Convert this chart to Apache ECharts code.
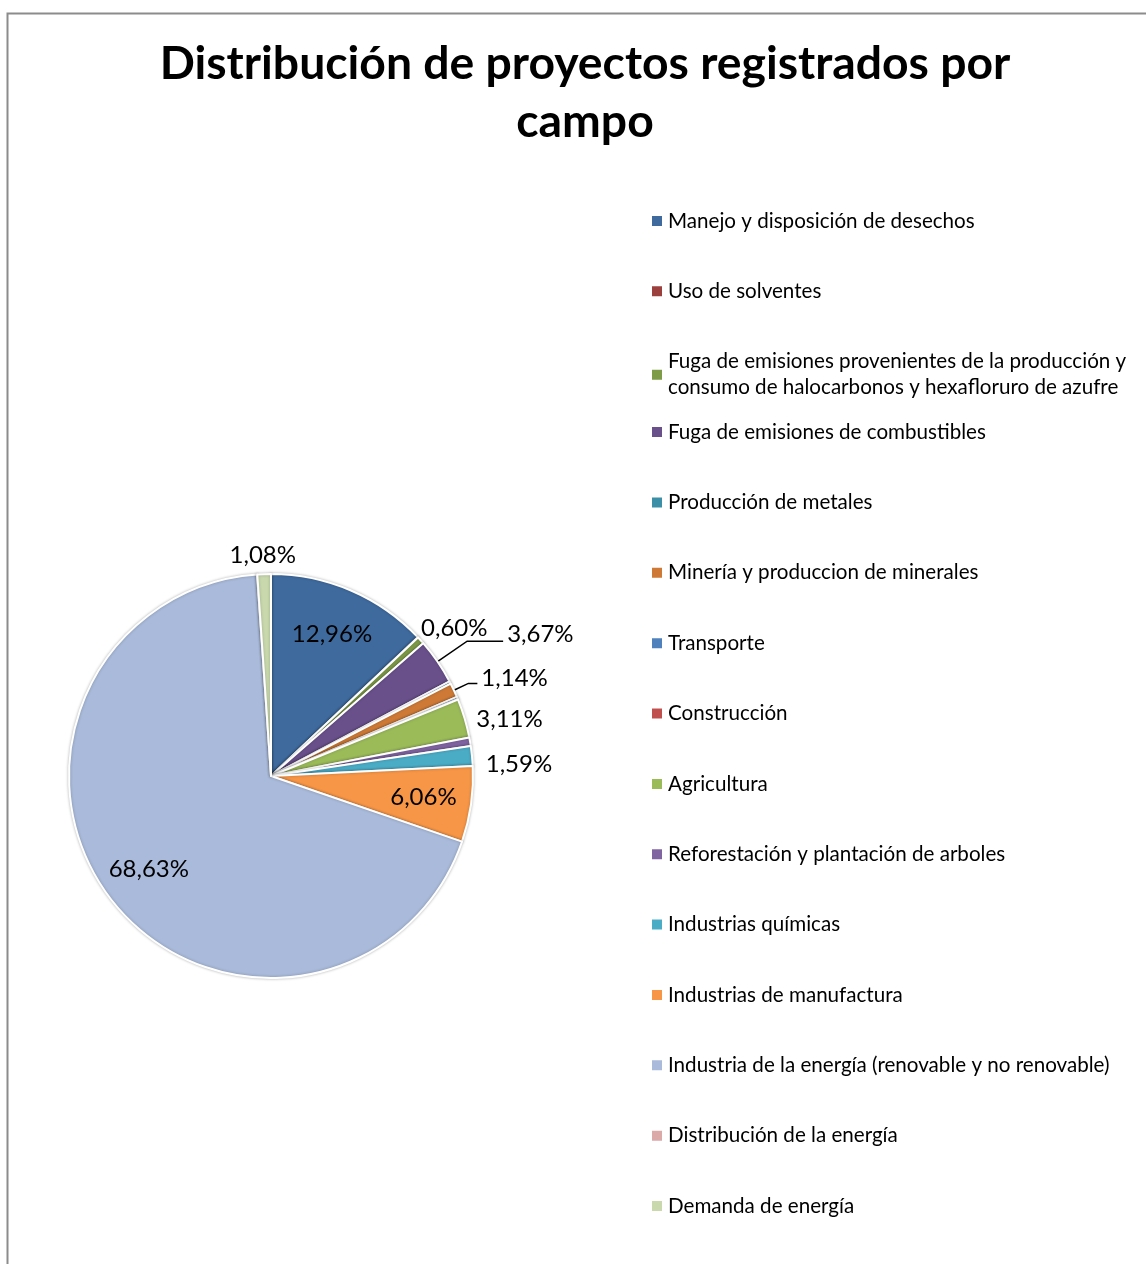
<html>
    <head>
        <meta charset="utf-8">
        <script src="https://cdn.jsdelivr.net/npm/echarts@6/dist/echarts.min.js"></script>
    </head>
    <body>
        <style>
            html, body, #main {
                width: 100%;
                height: 100%;
                margin: 0;
                background: #fff;
            }
        </style>
        <div id="main"></div>
        <script>
            var chart = echarts.init(document.getElementById('main'));

            // campos (orden de la leyenda y del pastel)
            var categories = [
                'Manejo y disposición de desechos',
                'Uso de solventes',
                'Fuga de emisiones provenientes de la producción y\nconsumo de halocarbonos y hexafloruro de azufre',
                'Fuga de emisiones de combustibles',
                'Producción de metales',
                'Minería y produccion de minerales',
                'Transporte',
                'Construcción',
                'Agricultura',
                'Reforestación y plantación de arboles',
                'Industrias químicas',
                'Industrias de manufactura',
                'Industria de la energía (renovable y no renovable)',
                'Distribución de la energía',
                'Demanda de energía'
            ];
            // porcentaje de proyectos por campo
            var shares = [12.96, 0.02, 0.60, 3.67, 0.20, 1.14, 0.20, 0.04, 3.11, 0.68, 1.59, 6.06, 68.63, 0.02, 1.08];
            // which slices carry a % label, and where
            var labelMode = ['in', '', 'out', 'line', '', 'line', '', '', 'out', '', 'out', 'in', 'in', '', 'out'];

            var colors = [
                '#3E6A9E', '#9C403D', '#7E9B47', '#69508B', '#3B8FA6',
                '#CE7A36', '#4F81BD', '#C0504D', '#9BBB59', '#8064A2',
                '#4BACC6', '#F79646', '#A9BADA', '#DBA9A8', '#C9D9AD'
            ];

            var CX = 271, CY = 776, R = 202;

            function pct(v) {
                return v.toFixed(2).replace('.', ',') + '%';
            }

            // mid angle of every slice (radians, clockwise from 12 o'clock)
            var total = shares.reduce(function (a, b) { return a + b; }, 0);
            var midAngles = [];
            var acc = 0;
            shares.forEach(function (v) {
                midAngles.push((acc + v / 2) / total * Math.PI * 2);
                acc += v;
            });

            var labelFont = {
                fontFamily: 'Lato',
                fontSize: 24,
                color: '#000'
            };

            // leader line [length, length2] for the two labels that have one;
            // their text sits a little above the line's end
            var lineLen = { 3: [36, 36], 5: [16, 9] };
            var liftStyle = {
                lift14: { fontSize: 1, lineHeight: 14 },
                lift10: { fontSize: 1, lineHeight: 10 }
            };

            var mainData = categories.map(function (name, i) {
                var mode = labelMode[i];
                var item = {
                    name: name,
                    value: shares[i],
                    label: { show: mode === 'out' || mode === 'line' },
                    labelLine: { show: mode === 'line' }
                };
                if (lineLen[i]) {
                    item.labelLine.length = lineLen[i][0];
                    item.labelLine.length2 = lineLen[i][1];
                    item.label.formatter = (function (tag) {
                        return function (p) {
                            return pct(p.value) + '\n{' + tag + '| }';
                        };
                    })(i === 3 ? 'lift14' : 'lift10');
                }
                return item;
            });

            // transparent ring used only to place the inner labels further out
            var ringData = categories.map(function (name, i) {
                return {
                    name: name,
                    value: shares[i],
                    label: { show: labelMode[i] === 'in' }
                };
            });

            var legends = categories.map(function (name, i) {
                return {
                    data: [name],
                    orient: 'vertical',
                    left: 650,
                    top: 221 + i * 70.36 - 13,
                    padding: 0,
                    itemWidth: 12,
                    itemHeight: 12,
                    icon: 'rect',
                    textStyle: {
                        fontFamily: 'Lato',
                        fontSize: 20.6,
                        lineHeight: 26,
                        color: '#000'
                    }
                };
            });

            var option = {
                color: colors,
                backgroundColor: '#fff',
                title: {
                    text: 'Distribución de proyectos registrados por\ncampo',
                    left: 580,
                    top: 30,
                    textAlign: 'center',
                    textStyle: {
                        fontFamily: 'Lato',
                        fontWeight: 'bold',
                        fontSize: 46.3,
                        lineHeight: 58,
                        color: '#000'
                    }
                },
                legend: legends,
                graphic: [{
                    type: 'rect',
                    shape: { x: 7.5, y: 13.5, width: 1200, height: 1300 },
                    style: { fill: 'none', stroke: '#8c8c8c', lineWidth: 2 },
                    silent: true
                }],
                series: [{
                    type: 'pie',
                    center: [CX, CY],
                    radius: [0, R],
                    startAngle: 90,
                    clockwise: true,
                    avoidLabelOverlap: false,
                    itemStyle: {
                        borderColor: '#fff',
                        borderWidth: 2,
                        shadowBlur: 3,
                        shadowColor: 'rgba(0,0,0,0.25)'
                    },
                    label: Object.assign({
                        position: 'outside',
                        formatter: function (p) { return pct(p.value); },
                        distanceToLabelLine: 4,
                        lineHeight: 24,
                        rich: liftStyle
                    }, labelFont),
                    labelLine: {
                        length: 8,
                        length2: 0,
                        lineStyle: { color: '#000', width: 1.5 }
                    },
                    // outside labels without a leader sit just past the rim
                    labelLayout: function (p) {
                        var i = p.dataIndex;
                        if (labelMode[i] !== 'out') {
                            return;
                        }
                        var a = midAngles[i];
                        var s = Math.sin(a), c = Math.cos(a);
                        var w = p.labelRect.width, h = p.labelRect.height;
                        var gap = 7 + 7 * Math.abs(s);
                        var ax = CX + s * (R + gap), ay = CY - c * (R + gap);
                        return {
                            x: ax + s * w / 2,
                            y: ay - Math.max(c, 0) * h + h / 2,
                            align: 'center',
                            verticalAlign: 'middle'
                        };
                    },
                    emphasis: { scale: false },
                    data: mainData
                }, {
                    type: 'pie',
                    center: [CX, CY],
                    radius: [100, R],
                    startAngle: 90,
                    clockwise: true,
                    silent: true,
                    itemStyle: { color: 'rgba(0,0,0,0)', borderWidth: 0 },
                    label: Object.assign({
                        position: 'inside',
                        formatter: function (p) { return pct(p.value); }
                    }, labelFont),
                    labelLine: { show: false },
                    emphasis: { disabled: true },
                    data: ringData
                }]
            };

            chart.setOption(option);

            window.onresize = function () {
                chart.resize();
            };
        </script>
    </body>
</html>
